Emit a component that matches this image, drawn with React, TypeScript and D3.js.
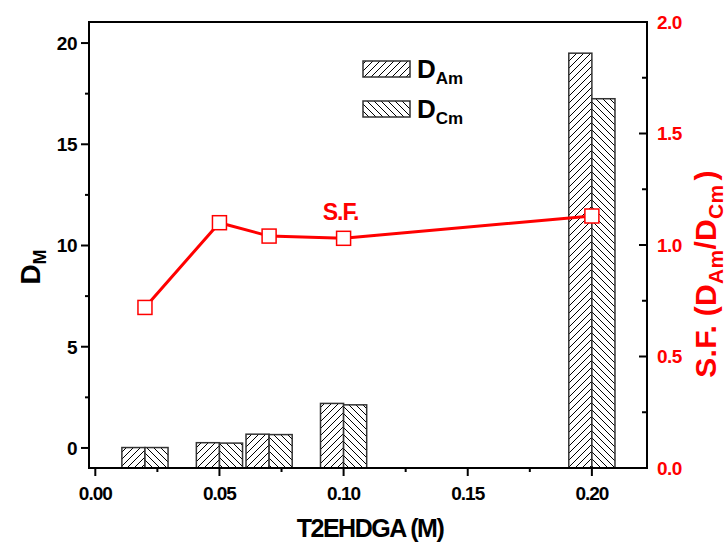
import React from "react";
import * as d3 from "d3";

const conc = [0.02, 0.05, 0.07, 0.1, 0.2];
const dAm = [0.02, 0.26, 0.68, 2.2, 19.5];
const dCm = [0.02, 0.24, 0.66, 2.13, 17.25];
const sf = [0.72, 1.1, 1.04, 1.03, 1.13];
const xTicks = [0, 0.05, 0.1, 0.15, 0.2];
const xMinor = [0.025, 0.075, 0.125, 0.175];
const yLTicks = [0, 5, 10, 15, 20];
const yLMinor = [2.5, 7.5, 12.5, 17.5];
const yRTicks = [0, 0.5, 1.0, 1.5, 2.0];
const yRMinor = [0.25, 0.75, 1.25, 1.75];

const W = 728, H = 544;
const L = 89, R = 647, T = 22, B = 468;
const FONT = "'Liberation Sans', Arial, sans-serif";

export default function App() {
  const x = d3.scaleLinear().domain([-0.00254, 0.2222]).range([L, R]);
  const yL = d3.scaleLinear().domain([-0.99, 21.04]).range([B, T]);
  const yR = d3.scaleLinear().domain([0, 2]).range([B, T]);
  const bw = x(0.0093) - x(0);
  const line = d3.line<number>().x((_, i) => x(conc[i])).y((v) => yR(v));

  return (
    <svg width={W} height={H} style={{ position: "absolute", left: 0, top: 0, background: "#fff" }} fontFamily={FONT}>
      <defs>
        <pattern id="hAm" patternUnits="userSpaceOnUse" width={7} height={7}>
          <rect width={7} height={7} fill="#fff" />
          <path d="M-1,1 l2,-2 M0,7 l7,-7 M6,8 l2,-2" stroke="#000" strokeWidth={1} />
        </pattern>
        <pattern id="hCm" patternUnits="userSpaceOnUse" width={7} height={7}>
          <rect width={7} height={7} fill="#fff" />
          <path d="M-1,6 l2,2 M0,0 l7,7 M6,-1 l2,2" stroke="#000" strokeWidth={1} />
        </pattern>
      </defs>

      {/* bars */}
      {conc.map((c, i) => (
        <g key={"b" + i}>
          <rect x={x(c) - bw} y={yL(dAm[i])} width={bw} height={B - yL(dAm[i])} fill="url(#hAm)" stroke="#333" strokeWidth={1.5} />
          <rect x={x(c)} y={yL(dCm[i])} width={bw} height={B - yL(dCm[i])} fill="url(#hCm)" stroke="#333" strokeWidth={1.5} />
        </g>
      ))}

      {/* SF line */}
      <path d={line(sf) || ""} fill="none" stroke="#ff0000" strokeWidth={3} />
      {sf.map((v, i) => (
        <rect key={"m" + i} x={x(conc[i]) - 7} y={yR(v) - 7} width={14} height={14} fill="#fff" stroke="#ff0000" strokeWidth={1.5} />
      ))}
      <text x={x(0.1) - 3} y={yR(1.11)} fill="#ff0000" fontSize={23} fontWeight="bold" textAnchor="middle" letterSpacing={-1}>S.F.</text>

      {/* frame */}
      <rect x={L} y={T} width={R - L} height={B - T} fill="none" stroke="#000" strokeWidth={2} />

      {/* left axis */}
      {yLTicks.map((t) => (
        <g key={"yl" + t}>
          <line x1={L - 8} x2={L} y1={yL(t)} y2={yL(t)} stroke="#000" strokeWidth={2} />
          <text x={L - 12} y={yL(t)} dy="0.36em" textAnchor="end" fontSize={19} fontWeight="bold" letterSpacing={-0.5}>{t}</text>
        </g>
      ))}
      {yLMinor.map((t) => (
        <line key={"ylm" + t} x1={L - 4} x2={L} y1={yL(t)} y2={yL(t)} stroke="#000" strokeWidth={2} />
      ))}

      {/* right axis */}
      {yRTicks.map((t) => (
        <g key={"yr" + t}>
          <line x1={R - 8} x2={R} y1={yR(t)} y2={yR(t)} stroke="#000" strokeWidth={2} />
          <text x={R + 10} y={yR(t)} dy="0.36em" textAnchor="start" fontSize={19} fontWeight="bold" fill="#ff0000" letterSpacing={-0.5}>{t.toFixed(1)}</text>
        </g>
      ))}
      {yRMinor.map((t) => (
        <line key={"yrm" + t} x1={R - 5} x2={R} y1={yR(t)} y2={yR(t)} stroke="#000" strokeWidth={2} />
      ))}

      {/* bottom axis */}
      {xTicks.map((t) => (
        <g key={"x" + t}>
          <line x1={x(t)} x2={x(t)} y1={B} y2={B + 8} stroke="#000" strokeWidth={2} />
          <text x={x(t)} y={B + 32} textAnchor="middle" fontSize={19} fontWeight="bold" letterSpacing={-1}>{t.toFixed(2)}</text>
        </g>
      ))}
      {xMinor.map((t) => (
        <line key={"xm" + t} x1={x(t)} x2={x(t)} y1={B} y2={B + 4} stroke="#000" strokeWidth={2} />
      ))}

      {/* axis titles */}
      <text x={(L + R) / 2 + 2} y={537} textAnchor="middle" fontSize={25} fontWeight="bold" letterSpacing={-1.5}>T2EHDGA (M)</text>
      <text transform={`translate(40,267) rotate(-90)`} textAnchor="middle" fontSize={28} fontWeight="bold">
        D<tspan fontSize={18} dy={6}>M</tspan>
      </text>
      <text transform={`translate(716,274) rotate(-90)`} textAnchor="middle" fontSize={30} fontWeight="bold" fill="#ff0000" letterSpacing={0.3}>
        S.F. (D<tspan fontSize={21} dy={7}>Am</tspan><tspan dy={-7}>/D</tspan><tspan fontSize={21} dy={7}>Cm</tspan><tspan dy={-7} dx={4}>)</tspan>
      </text>

      {/* legend */}
      <rect x={363} y={61} width={47} height={16} fill="url(#hAm)" stroke="#333" strokeWidth={1.5} />
      <rect x={363} y={101} width={47} height={16} fill="url(#hCm)" stroke="#333" strokeWidth={1.5} />
      <text x={417} y={78} fontSize={26} fontWeight="bold">D<tspan fontSize={17} dy={6}>Am</tspan></text>
      <text x={417} y={118} fontSize={26} fontWeight="bold">D<tspan fontSize={17} dy={6}>Cm</tspan></text>
    </svg>
  );
}
